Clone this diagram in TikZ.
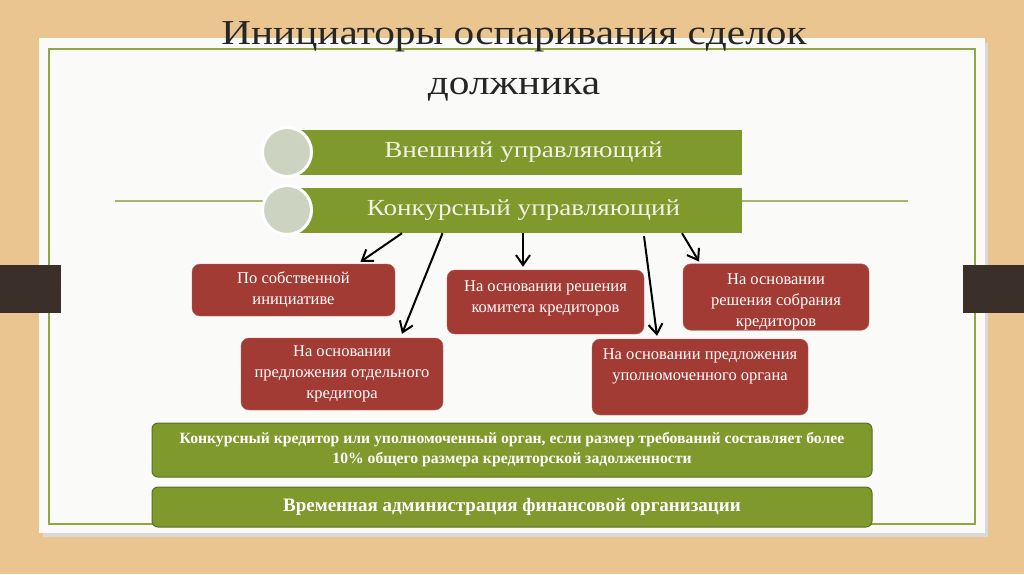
\documentclass[tikz,border=0pt]{standalone}
\usepackage{fontspec}
\setmainfont{Liberation Serif}
\usetikzlibrary{arrows.meta,positioning}
\definecolor{woodbg}{HTML}{EBC590}
\definecolor{paper}{HTML}{FAFAF8}
\definecolor{framegreen}{HTML}{8FA642}
\definecolor{olive}{HTML}{7F992D}
\definecolor{olivedark}{HTML}{5C6E1F}
\definecolor{brick}{HTML}{A33B35}
\definecolor{tabdark}{HTML}{3B3029}
\definecolor{sage}{HTML}{CCD3C0}
\definecolor{cream}{HTML}{F3F1E4}
\newcommand{\wide}[1]{\scalebox{1.18}[1]{#1}}

\begin{document}
\begin{tikzpicture}[x=1pt,y=-1pt,
  topbox/.style={rectangle,fill=olive,minimum width=445pt,minimum height=45pt,
               text=cream,font=\fontsize{23}{28}\selectfont,inner sep=0pt},
  bullet/.style={circle,fill=sage,draw=white,line width=3pt,minimum size=49pt,inner sep=0pt},
  redbox/.style={rectangle,rounded corners=8pt,fill=brick,draw=brick!80!white,
               align=center,text=white,font=\fontsize{16.5}{21}\selectfont,inner sep=0pt},
  basebox/.style={rectangle,rounded corners=6pt,fill=olive,draw=olivedark,line width=1pt,
               minimum width=720pt,align=center,text=white,inner sep=0pt},
  arr/.style={-{Straight Barb[length=10pt,width=14pt]},line width=2pt,black}]
\useasboundingbox (0,0) rectangle (1024,574);
% background and paper
\fill[woodbg] (0,0) rectangle (1024,574);
\fill[black!15] (43,43) rectangle (988,537);
\fill[paper] (39,38) rectangle (985,533);
\draw[framegreen,line width=1.5pt] (49,49) rectangle (975,524);
\fill[tabdark] (0,265) rectangle (61,313);
\fill[tabdark] (963,265) rectangle (1024,313);
\draw[framegreen!80!white,line width=2.5pt] (115,201) -- (908,201);
% title
\node[align=center,text=black!85,font=\fontsize{35}{50}\selectfont] (title) at (514,61)
  {\wide{Инициаторы оспаривания сделок}\\\wide{должника}};
% managers
\node[topbox] (ext) at (519.5,152.5) {\hspace{8pt}\wide{Внешний управляющий}};
\node[topbox] (mgr) at (519.5,210.5) {\hspace{8pt}\wide{Конкурсный управляющий}};
\node[bullet] (b1) at (287,152) {};
\node[bullet] (b2) at (287,210) {};
% grounds
\node[redbox,minimum width=203pt,minimum height=52pt] (own) at (293.5,290)
  {По собственной\\инициативе};
\node[redbox,minimum width=202pt,minimum height=72pt] (cred) at (342,374)
  {На основании\\предложения отдельного\\кредитора};
\node[redbox,minimum width=197pt,minimum height=64pt,text depth=10pt] (comm) at (545.5,302)
  {На основании решения\\комитета кредиторов};
\node[redbox,minimum width=186pt,minimum height=66pt,text height=63pt] (meet) at (776,297)
  {На основании\\решения собрания\\кредиторов};
\node[redbox,minimum width=216pt,minimum height=76pt,text depth=25pt] (organ) at (700,377)
  {На основании предложения\\уполномоченного органа};
% arrows
\draw[arr] ([xshift=-117.5pt]mgr.south) -- ([xshift=67pt,yshift=2pt]own.north);
\draw[arr] ([xshift=-77pt]mgr.south) -- ([xshift=60pt,yshift=4pt]cred.north);
\draw[arr] ([xshift=3.5pt]mgr.south) -- ([xshift=-22.5pt,yshift=3pt]comm.north);
\draw[arr] ([xshift=124.5pt,yshift=-3pt]mgr.south) -- ([xshift=-43pt,yshift=3pt]organ.north);
\draw[arr] ([xshift=162.5pt]mgr.south) -- ([xshift=-77pt,yshift=2pt]meet.north);
% creditors
\node[basebox,minimum height=54pt,font=\bfseries\fontsize{15.7}{20}\selectfont] (crit) at (512,450)
  {Конкурсный кредитор или уполномоченный орган, если размер требований составляет более\\10\% общего размера кредиторской задолженности};
\node[basebox,minimum height=40pt,font=\bfseries\fontsize{19}{22}\selectfont] (temp) at (512,507)
  {Временная администрация финансовой организации};
\end{tikzpicture}
\end{document}
